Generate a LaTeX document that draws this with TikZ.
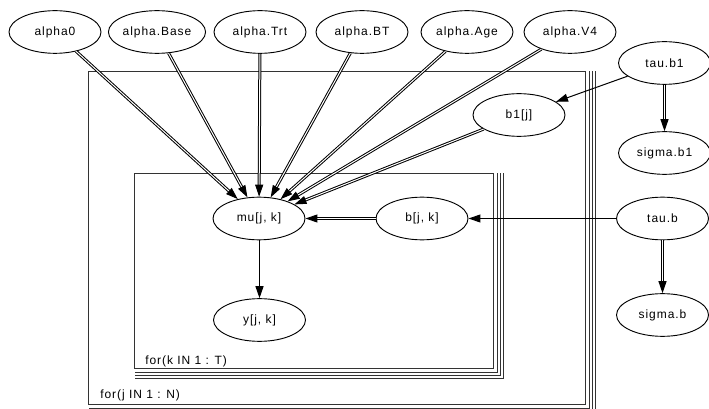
\documentclass[tikz,border=0pt]{standalone}
\usepackage{fontspec}
\setmainfont{Liberation Sans}[LetterSpace=8]
\usetikzlibrary{arrows.meta,shapes.geometric}
\begin{document}
\begin{tikzpicture}[x=0.75pt,y=-0.75pt,
  var/.style={ellipse,draw,line width=0.7pt,fill=white,minimum width=69pt,minimum height=32pt,inner sep=0pt,font=\fontsize{9}{10}\selectfont},
  stoch/.style={draw,line width=0.75pt,-{Triangle[length=9pt,width=6pt]}},
  logic/.style={draw,double,double distance=0.75pt,line width=0.75pt,-{Triangle[length=9pt,width=6pt]}},
  plate/.style={draw,line width=0.75pt,black!80},
  lbl/.style={anchor=base west,inner sep=0pt,font=\fontsize{9}{10}\selectfont}]
\useasboundingbox (0,0) rectangle (709,409);
% plates
\draw[plate] (88.5,71.5) rectangle (585.5,404.5);
\foreach \d in {4,7,10} \draw[plate] (585.5+\d,71.5) -- (585.5+\d,404.5+\d) -- (88.5,404.5+\d);
\node[lbl] (lj) at (100,398) {for(j IN 1 : N)};
\draw[plate] (134.5,173.5) rectangle (493.5,368.5);
\foreach \d in {4,7,10} \draw[plate] (493.5+\d,173.5) -- (493.5+\d,368.5+\d) -- (134.5,368.5+\d);
\node[lbl] (lk) at (145,364) {for(k IN 1 : T)};
% nodes
\node[var] (a0) at (55,32) {alpha0};
\node[var] (aBase) at (157,32) {alpha.Base};
\node[var] (aTrt) at (260,32) {alpha.Trt};
\node[var] (aBT) at (362,32) {alpha.BT};
\node[var] (aAge) at (467,32) {alpha.Age};
\node[var] (aV4) at (570,32) {alpha.V4};
\node[var] (taub1) at (664.5,63) {tau.b1};
\node[var] (sigb1) at (664.5,153) {sigma.b1};
\node[var] (b1) at (519,115) {b1[j]};
\node[var] (mu) at (259,218.5) {mu[j, k]};
\node[var] (b) at (422,218.5) {b[j, k]};
\node[var] (taub) at (662.5,218.5) {tau.b};
\node[var] (sigb) at (662.5,315) {sigma.b};
\node[var] (y) at (259.5,320) {y[j, k]};
% edges
\foreach \s in {a0,aBase,aTrt,aBT,aAge,aV4,b1,b} \draw[logic] (\s) -- (mu);
\draw[logic] (taub1) -- (sigb1);
\draw[logic] (taub) -- (sigb);
\draw[stoch] (taub1) -- (b1);
\draw[stoch] (taub) -- (b);
\draw[stoch] (mu.south -| y) -- (y);
\end{tikzpicture}
\end{document}
